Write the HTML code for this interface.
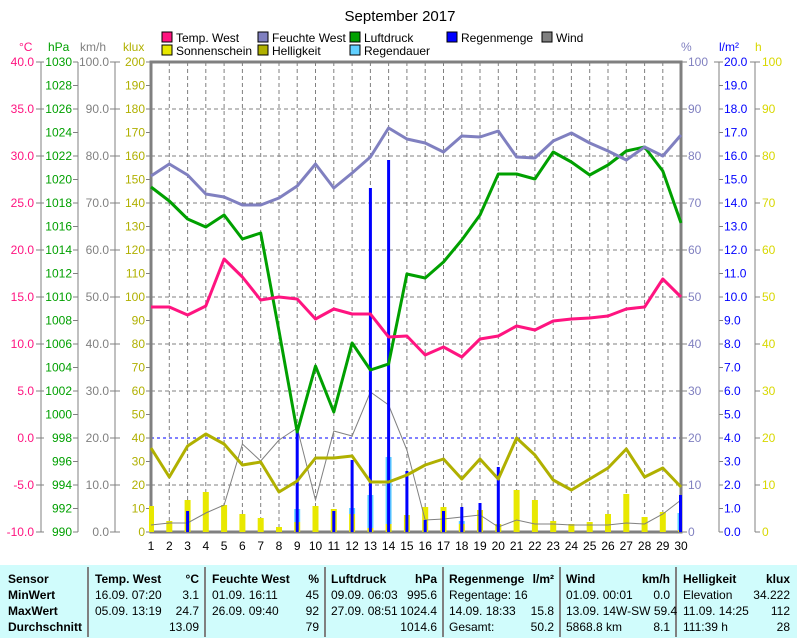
<!DOCTYPE html>
<html><head><meta charset="utf-8"><style>
body{margin:0;background:#fff;width:797px;height:638px;overflow:hidden;font-family:"Liberation Sans",sans-serif}
svg text{font-family:"Liberation Sans",sans-serif;font-size:12px}
</style></head><body>
<svg width="797" height="638" viewBox="0 0 797 638" xmlns="http://www.w3.org/2000/svg">
<rect width="797" height="638" fill="#fff"/>
<text x="400" y="21" text-anchor="middle" style="font-size:15px">September 2017</text>
<!-- legend -->
<g style="font-size:12px">
<rect x="162" y="32" width="10" height="10" fill="#ff1480" stroke="#000"/><text x="176" y="42">Temp. West</text>
<rect x="258" y="32" width="10" height="10" fill="#8080c0" stroke="#000"/><text x="272" y="42">Feuchte West</text>
<rect x="350" y="32" width="10" height="10" fill="#00a000" stroke="#000"/><text x="364" y="42">Luftdruck</text>
<rect x="447" y="32" width="10" height="10" fill="#0000ff" stroke="#000"/><text x="461" y="42">Regenmenge</text>
<rect x="542" y="32" width="10" height="10" fill="#808080" stroke="#000"/><text x="556" y="42">Wind</text>
<rect x="162" y="45" width="10" height="10" fill="#e8e800" stroke="#000"/><text x="176" y="55">Sonnenschein</text>
<rect x="258" y="45" width="10" height="10" fill="#b0b000" stroke="#000"/><text x="272" y="55">Helligkeit</text>
<rect x="350" y="45" width="10" height="10" fill="#60d0ff" stroke="#000"/><text x="364" y="55">Regendauer</text>
</g>
<!-- units -->
<text x="19" y="51" fill="#ff1480">°C</text>
<text x="48" y="51" fill="#00a000">hPa</text>
<text x="80" y="51" fill="#808080">km/h</text>
<text x="123" y="51" fill="#b0b000">klux</text>
<text x="681" y="51" fill="#8080c0">%</text>
<text x="719" y="51" fill="#0000ff">l/m²</text>
<text x="755" y="51" fill="#d8d800">h</text>
<!-- grid -->
<g stroke="#808080" stroke-dasharray="4,3" stroke-width="1">
<path d="M169.3 62V532M187.6 62V532M205.8 62V532M224.1 62V532M242.4 62V532M260.7 62V532M279 62V532M297.2 62V532M315.5 62V532M333.8 62V532M352.1 62V532M370.4 62V532M388.6 62V532M406.9 62V532M425.2 62V532M443.5 62V532M461.8 62V532M480 62V532M498.3 62V532M516.6 62V532M534.9 62V532M553.2 62V532M571.4 62V532M589.7 62V532M608 62V532M626.3 62V532M644.6 62V532M662.8 62V532"/>
<path d="M151 109H681M151 156H681M151 203H681M151 250H681M151 297H681M151 344H681M151 391H681M151 485H681"/>
</g>
<line x1="151" y1="438" x2="681" y2="438" stroke="#0000ff" stroke-dasharray="3,3"/>
<!-- axis lines -->
<g stroke="#808080" fill="none">
<line x1="41" y1="62" x2="41" y2="532"/><line x1="78" y1="62" x2="78" y2="532"/><line x1="115" y1="62" x2="115" y2="532"/>
<line x1="719" y1="62" x2="719" y2="532"/><line x1="755" y1="62" x2="755" y2="532"/>
<rect x="151" y="62" width="530" height="470" stroke-width="3"/>
</g>
<g stroke="#808080">
<path d="M36 62H44M36 109H44M36 156H44M36 203H44M36 250H44M36 297H44M36 344H44M36 391H44M36 438H44M36 485H44M36 532H44"/>
<path d="M73 62H78M73 85.5H78M73 109H78M73 132.5H78M73 156H78M73 179.5H78M73 203H78M73 226.5H78M73 250H78M73 273.5H78M73 297H78M73 320.5H78M73 344H78M73 367.5H78M73 391H78M73 414.5H78M73 438H78M73 461.5H78M73 485H78M73 508.5H78M73 532H78"/>
<path d="M110 62H120M110 109H120M110 156H120M110 203H120M110 250H120M110 297H120M110 344H120M110 391H120M110 438H120M110 485H120M110 532H120"/>
<path d="M146 62H151M146 85.5H151M146 109H151M146 132.5H151M146 156H151M146 179.5H151M146 203H151M146 226.5H151M146 250H151M146 273.5H151M146 297H151M146 320.5H151M146 344H151M146 367.5H151M146 391H151M146 414.5H151M146 438H151M146 461.5H151M146 485H151M146 508.5H151M146 532H151"/>
<path d="M681 62H687M681 109H687M681 156H687M681 203H687M681 250H687M681 297H687M681 344H687M681 391H687M681 438H687M681 485H687M681 532H687"/>
<path d="M714 62H723M719 85.5H723M719 109H723M719 132.5H723M719 156H723M719 179.5H723M719 203H723M719 226.5H723M719 250H723M719 273.5H723M719 297H723M719 320.5H723M719 344H723M719 367.5H723M719 391H723M719 414.5H723M719 438H723M719 461.5H723M719 485H723M719 508.5H723M719 532H723"/>
<path d="M750 62H760M755 109H760M755 156H760M755 203H760M755 250H760M755 297H760M755 344H760M755 391H760M755 438H760M755 485H760M755 532H760"/>
</g>
<!-- left labels -->
<g fill="#ff1480" text-anchor="end">
<text x="34" y="66">40.0</text><text x="34" y="113">35.0</text><text x="34" y="160">30.0</text><text x="34" y="207">25.0</text><text x="34" y="254">20.0</text><text x="34" y="301">15.0</text><text x="34" y="348">10.0</text><text x="34" y="395">5.0</text><text x="34" y="442">0.0</text><text x="34" y="489">-5.0</text><text x="34" y="536">-10.0</text>
</g>
<g fill="#00a000" text-anchor="end">
<text x="72" y="66">1030</text><text x="72" y="89.5">1028</text><text x="72" y="113">1026</text><text x="72" y="136.5">1024</text><text x="72" y="160">1022</text><text x="72" y="183.5">1020</text><text x="72" y="207">1018</text><text x="72" y="230.5">1016</text><text x="72" y="254">1014</text><text x="72" y="277.5">1012</text><text x="72" y="301">1010</text><text x="72" y="324.5">1008</text><text x="72" y="348">1006</text><text x="72" y="371.5">1004</text><text x="72" y="395">1002</text><text x="72" y="418.5">1000</text><text x="72" y="442">998</text><text x="72" y="465.5">996</text><text x="72" y="489">994</text><text x="72" y="512.5">992</text><text x="72" y="536">990</text>
</g>
<g fill="#808080" text-anchor="end">
<text x="109" y="66">100.0</text><text x="109" y="113">90.0</text><text x="109" y="160">80.0</text><text x="109" y="207">70.0</text><text x="109" y="254">60.0</text><text x="109" y="301">50.0</text><text x="109" y="348">40.0</text><text x="109" y="395">30.0</text><text x="109" y="442">20.0</text><text x="109" y="489">10.0</text><text x="109" y="536">0.0</text>
</g>
<g fill="#b0b000" text-anchor="end">
<text x="145" y="66">200</text><text x="145" y="89.5">190</text><text x="145" y="113">180</text><text x="145" y="136.5">170</text><text x="145" y="160">160</text><text x="145" y="183.5">150</text><text x="145" y="207">140</text><text x="145" y="230.5">130</text><text x="145" y="254">120</text><text x="145" y="277.5">110</text><text x="145" y="301">100</text><text x="145" y="324.5">90</text><text x="145" y="348">80</text><text x="145" y="371.5">70</text><text x="145" y="395">60</text><text x="145" y="418.5">50</text><text x="145" y="442">40</text><text x="145" y="465.5">30</text><text x="145" y="489">20</text><text x="145" y="512.5">10</text><text x="145" y="536">0</text>
</g>
<!-- right labels -->
<g fill="#8080c0">
<text x="688" y="66">100</text><text x="688" y="113">90</text><text x="688" y="160">80</text><text x="688" y="207">70</text><text x="688" y="254">60</text><text x="688" y="301">50</text><text x="688" y="348">40</text><text x="688" y="395">30</text><text x="688" y="442">20</text><text x="688" y="489">10</text><text x="688" y="536">0</text>
</g>
<g fill="#0000ff">
<text x="724" y="66">20.0</text><text x="724" y="89.5">19.0</text><text x="724" y="113">18.0</text><text x="724" y="136.5">17.0</text><text x="724" y="160">16.0</text><text x="724" y="183.5">15.0</text><text x="724" y="207">14.0</text><text x="724" y="230.5">13.0</text><text x="724" y="254">12.0</text><text x="724" y="277.5">11.0</text><text x="724" y="301">10.0</text><text x="724" y="324.5">9.0</text><text x="724" y="348">8.0</text><text x="724" y="371.5">7.0</text><text x="724" y="395">6.0</text><text x="724" y="418.5">5.0</text><text x="724" y="442">4.0</text><text x="724" y="465.5">3.0</text><text x="724" y="489">2.0</text><text x="724" y="512.5">1.0</text><text x="724" y="536">0.0</text>
</g>
<g fill="#d8d800">
<text x="762" y="66">100</text><text x="762" y="113">90</text><text x="762" y="160">80</text><text x="762" y="207">70</text><text x="762" y="254">60</text><text x="762" y="301">50</text><text x="762" y="348">40</text><text x="762" y="395">30</text><text x="762" y="442">20</text><text x="762" y="489">10</text><text x="762" y="536">0</text>
</g>
<!-- x labels -->
<g text-anchor="middle" fill="#000">
<text x="151" y="550">1</text><text x="169.3" y="550">2</text><text x="187.6" y="550">3</text><text x="205.8" y="550">4</text><text x="224.1" y="550">5</text><text x="242.4" y="550">6</text><text x="260.7" y="550">7</text><text x="279" y="550">8</text><text x="297.2" y="550">9</text><text x="315.5" y="550">10</text><text x="333.8" y="550">11</text><text x="352.1" y="550">12</text><text x="370.4" y="550">13</text><text x="388.6" y="550">14</text><text x="406.9" y="550">15</text><text x="425.2" y="550">16</text><text x="443.5" y="550">17</text><text x="461.8" y="550">18</text><text x="480" y="550">19</text><text x="498.3" y="550">20</text><text x="516.6" y="550">21</text><text x="534.9" y="550">22</text><text x="553.2" y="550">23</text><text x="571.4" y="550">24</text><text x="589.7" y="550">25</text><text x="608" y="550">26</text><text x="626.3" y="550">27</text><text x="644.6" y="550">28</text><text x="662.8" y="550">29</text><text x="681" y="550">30</text>
</g>
<!-- sunshine bars -->
<g fill="#e8e800">
<rect x="149" y="506" width="5" height="26"/><rect x="166.3" y="521" width="6" height="11"/><rect x="184.6" y="500" width="6" height="32"/><rect x="202.8" y="492" width="6" height="40"/><rect x="221.1" y="505" width="6" height="27"/><rect x="239.4" y="514" width="6" height="18"/><rect x="257.7" y="518" width="6" height="14"/><rect x="276" y="527" width="6" height="5"/><rect x="294.2" y="522" width="6" height="10"/><rect x="312.5" y="506" width="6" height="26"/><rect x="330.8" y="509" width="6" height="23"/><rect x="349.1" y="514" width="6" height="18"/><rect x="367.4" y="528" width="6" height="4"/><rect x="385.6" y="524" width="6" height="8"/><rect x="403.9" y="515" width="6" height="17"/><rect x="422.2" y="507" width="6" height="25"/><rect x="440.5" y="507" width="6" height="25"/><rect x="458.8" y="524" width="6" height="8"/><rect x="477" y="510" width="6" height="22"/><rect x="495.3" y="524" width="6" height="8"/><rect x="513.6" y="490" width="6" height="42"/><rect x="531.9" y="500" width="6" height="32"/><rect x="550.2" y="521" width="6" height="11"/><rect x="568.4" y="524" width="6" height="8"/><rect x="586.7" y="522" width="6" height="10"/><rect x="605" y="514" width="6" height="18"/><rect x="623.3" y="494" width="6" height="38"/><rect x="641.6" y="517" width="6" height="15"/><rect x="659.8" y="512" width="6" height="20"/><rect x="678" y="530" width="3" height="2"/>
</g>
<!-- regendauer -->
<g fill="#60d0ff">
<rect x="294.2" y="509" width="6" height="13"/><rect x="349.1" y="508" width="6" height="6"/><rect x="367.4" y="495" width="6" height="33"/><rect x="385.6" y="457" width="6" height="67"/><rect x="458.8" y="521" width="6" height="3"/><rect x="677.5" y="513" width="3" height="17"/>
</g>
<!-- wind -->
<polyline fill="none" stroke="#808080" stroke-width="1" points="151,525 169.3,523 187.6,523 205.8,513 224.1,505 242.4,444 260.7,461 279,440 297.2,428 315.5,500 333.8,431 352.1,436 370.4,392 388.6,405 406.9,450 425.2,520 443.5,519 461.8,517 480,515 498.3,527 516.6,520 534.9,524 553.2,524 571.4,525 589.7,525 608,525 626.3,523 644.6,524 662.8,514 681,500"/>
<!-- rain -->
<g fill="#0000ff">
<rect x="186.1" y="511" width="3" height="21"/><rect x="295.7" y="432" width="3" height="100"/><rect x="332.3" y="511" width="3" height="21"/><rect x="350.6" y="460" width="3" height="72"/><rect x="368.9" y="188" width="3" height="344"/><rect x="387.1" y="160" width="3" height="372"/><rect x="405.4" y="471" width="3" height="61"/><rect x="423.7" y="520" width="3" height="12"/><rect x="442" y="511" width="3" height="21"/><rect x="460.3" y="507" width="3" height="25"/><rect x="478.5" y="503" width="3" height="29"/><rect x="496.8" y="467" width="3" height="65"/><rect x="679" y="495" width="3" height="37"/>
</g>
<!-- helligkeit -->
<polyline fill="none" stroke="#b0b000" stroke-width="3" stroke-linejoin="round" points="151,448 169.3,477 187.6,446 205.8,434 224.1,444 242.4,465 260.7,462 279,492 297.2,481 315.5,458 333.8,458 352.1,456 370.4,482 388.6,482 406.9,475 425.2,465 443.5,459 461.8,479 480,459 498.3,479 516.6,438 534.9,455 553.2,480 571.4,490 589.7,479 608,468 626.3,449 644.6,477 662.8,468 681,487"/>
<!-- pressure -->
<polyline fill="none" stroke="#00a000" stroke-width="3" stroke-linejoin="round" points="151,187 169.3,201 187.6,219 205.8,227 224.1,215 242.4,239 260.7,233 279,331 297.2,432 315.5,366 333.8,412 352.1,343 370.4,370 388.6,364 406.9,274 425.2,278 443.5,262 461.8,240 480,215 498.3,174 516.6,174 534.9,179 553.2,152 571.4,162 589.7,175 608,165 626.3,151 644.6,147 662.8,171 681,223"/>
<!-- humidity -->
<polyline fill="none" stroke="#8080c0" stroke-width="3" stroke-linejoin="round" points="151,176 169.3,164 187.6,175 205.8,194 224.1,197 242.4,205 260.7,205 279,198 297.2,186 315.5,164 333.8,188 352.1,173 370.4,157 388.6,128 406.9,139 425.2,143 443.5,152 461.8,136 480,137 498.3,131 516.6,157 534.9,158 553.2,141 571.4,133 589.7,143 608,151 626.3,160 644.6,147 662.8,156 681,135"/>
<!-- temp -->
<polyline fill="none" stroke="#ff1480" stroke-width="3" stroke-linejoin="round" points="151,307 169.3,307 187.6,315 205.8,306 224.1,259 242.4,277 260.7,300 279,297 297.2,299 315.5,319 333.8,309 352.1,314 370.4,314 388.6,337 406.9,336 425.2,355 443.5,347 461.8,357 480,339 498.3,336 516.6,326 534.9,330 553.2,321 571.4,319 589.7,318 608,316 626.3,309 644.6,307 662.8,279 681,297"/>
<!-- table -->
<rect x="0" y="565" width="797" height="73" fill="#d0fcfc"/>
<g stroke="#808080" stroke-width="2">
<line x1="88" y1="567" x2="88" y2="637"/><line x1="205" y1="567" x2="205" y2="637"/><line x1="325" y1="567" x2="325" y2="637"/><line x1="443" y1="567" x2="443" y2="637"/><line x1="560" y1="567" x2="560" y2="637"/><line x1="676" y1="567" x2="676" y2="637"/>
</g>
<g style="font-size:11.5px" fill="#000">
<g font-weight="bold">
<text x="8" y="583">Sensor</text><text x="8" y="599">MinWert</text><text x="8" y="615">MaxWert</text><text x="8" y="631">Durchschnitt</text>
<text x="95" y="583">Temp. West</text><text x="199" y="583" text-anchor="end">°C</text>
<text x="212" y="583">Feuchte West</text><text x="319" y="583" text-anchor="end">%</text>
<text x="331" y="583">Luftdruck</text><text x="437" y="583" text-anchor="end">hPa</text>
<text x="449" y="583">Regenmenge</text><text x="554" y="583" text-anchor="end">l/m²</text>
<text x="566" y="583">Wind</text><text x="670" y="583" text-anchor="end">km/h</text>
<text x="683" y="583">Helligkeit</text><text x="790" y="583" text-anchor="end">klux</text>
</g>
<text x="95" y="599">16.09.  07:20</text><text x="199" y="599" text-anchor="end">3.1</text>
<text x="95" y="615">05.09.  13:19</text><text x="199" y="615" text-anchor="end">24.7</text>
<text x="199" y="631" text-anchor="end">13.09</text>
<text x="212" y="599">01.09.  16:11</text><text x="319" y="599" text-anchor="end">45</text>
<text x="212" y="615">26.09.  09:40</text><text x="319" y="615" text-anchor="end">92</text>
<text x="319" y="631" text-anchor="end">79</text>
<text x="331" y="599">09.09.  06:03</text><text x="437" y="599" text-anchor="end">995.6</text>
<text x="331" y="615">27.09.  08:51</text><text x="437" y="615" text-anchor="end">1024.4</text>
<text x="437" y="631" text-anchor="end">1014.6</text>
<text x="449" y="599">Regentage: 16</text>
<text x="449" y="615">14.09.  18:33</text><text x="554" y="615" text-anchor="end">15.8</text>
<text x="449" y="631">Gesamt:</text><text x="554" y="631" text-anchor="end">50.2</text>
<text x="566" y="599">01.09.  00:01</text><text x="670" y="599" text-anchor="end">0.0</text>
<text x="566" y="615">13.09.  14W-SW 59.4</text>
<text x="566" y="631">5868.8 km</text><text x="670" y="631" text-anchor="end">8.1</text>
<text x="683" y="599">Elevation</text><text x="790" y="599" text-anchor="end">34.222</text>
<text x="683" y="615">11.09.  14:25</text><text x="790" y="615" text-anchor="end">112</text>
<text x="683" y="631">111:39 h</text><text x="790" y="631" text-anchor="end">28</text>
</g>
</svg>
</body></html>
